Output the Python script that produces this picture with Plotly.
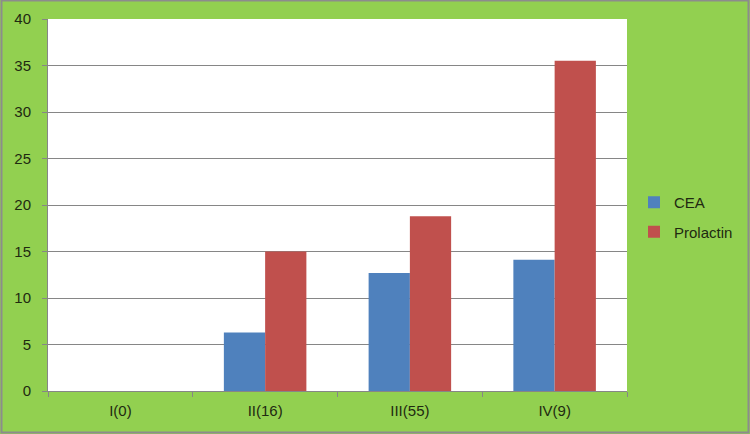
import plotly.graph_objects as go

categories = ["I(0)", "II(16)", "III(55)", "IV(9)"]
cea = [0, 6.3, 12.7, 14.1]
prolactin = [0, 15.0, 18.8, 35.5]
y_ticks = [0, 5, 10, 15, 20, 25, 30, 35, 40]

W, H = 750, 434
ml, mr, mt, mb = 48, 123, 19, 43
pw, ph = W - ml - mr, H - mt - mb

fig = go.Figure()
fig.add_trace(go.Bar(name="CEA", x=categories, y=cea, legendgroup="a",
                     marker=dict(color="#4F81BD", line=dict(width=0))))
fig.add_trace(go.Bar(name="Prolactin", x=categories, y=prolactin, legendgroup="b",
                     marker=dict(color="#C0504D", line=dict(width=0))))

font = dict(family="Liberation Sans, Arial, sans-serif", size=15, color="#1F2A10")

fig.update_layout(
    width=W, height=H,
    margin=dict(l=ml, r=mr, t=mt, b=mb, pad=0, autoexpand=False),
    paper_bgcolor="#92D050",
    plot_bgcolor="#FFFFFF",
    barmode="group",
    bargap=0.43,
    bargroupgap=0,
    font=font,
    showlegend=True,
    legend=dict(x=(634 - ml) / pw, xanchor="left", y=(H - mb - 217) / ph, yanchor="middle",
                bgcolor="rgba(0,0,0,0)", font=dict(size=15, color="#1F2A10"),
                traceorder="grouped", itemwidth=30, tracegroupgap=7),
    xaxis=dict(showline=True, linecolor="#868686", linewidth=1, ticks="outside",
               tickson="boundaries", ticklen=5, tickcolor="#868686",
               showgrid=False, tickfont=font, fixedrange=True, ticklabelstandoff=6),
    yaxis=dict(range=[0, 40], tickvals=y_ticks, showline=True, linecolor="#868686",
               linewidth=1, ticks="outside", ticklen=5, tickcolor="#868686",
               showgrid=True, gridcolor="#868686", gridwidth=1, zeroline=False,
               tickfont=font, fixedrange=True, ticklabelstandoff=8),
    shapes=[dict(type="rect", xref="paper", yref="paper",
                 x0=(1.5 - ml) / pw, x1=(W - 1.5 - ml) / pw,
                 y0=(-mb + 1.5) / ph, y1=(ph + mt - 0.5) / ph,
                 line=dict(color="#8C8C8C", width=2), fillcolor="rgba(0,0,0,0)", layer="above")],
)

fig.write_html("out.html")
